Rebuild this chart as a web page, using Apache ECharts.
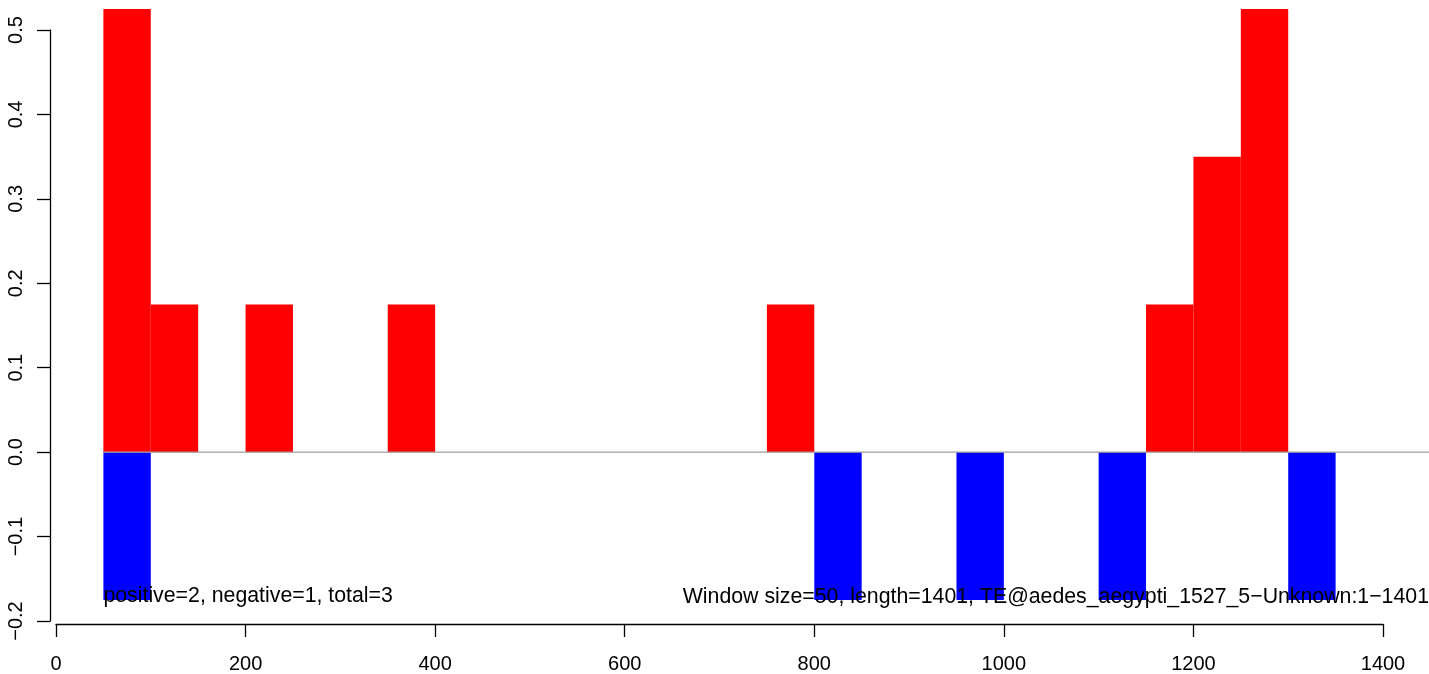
<!DOCTYPE html>
<html>
<head>
<meta charset="utf-8">
<script src="https://cdn.jsdelivr.net/npm/echarts@6/dist/echarts.min.js"></script>
<style>
html,body{margin:0;padding:0;background:#fff;}
#chart{width:1429px;height:674px;}
</style>
</head>
<body>
<div id="chart"></div>
<script>
// Window bins: [start, end, value]
var windowSize = 50;
var positiveStarts = [50, 100, 200, 350, 750, 1150, 1200, 1250];
var positiveValues = [0.525, 0.175, 0.175, 0.175, 0.175, 0.175, 0.35, 0.525];
var negativeStarts = [50, 800, 950, 1100, 1300];
var negativeValues = [-0.175, -0.175, -0.175, -0.175, -0.175];
var baselineX = [50, 1460];
var baselineY = [0, 0];
var xTicks = [0, 200, 400, 600, 800, 1000, 1200, 1400];
var yTicks = [-0.2, -0.1, 0.0, 0.1, 0.2, 0.3, 0.4, 0.5];
var leftNote = "positive=2, negative=1, total=3";
var rightNote = "Window size=50, length=1401, TE@aedes_aegypti_1527_5\u2212Unknown:1\u22121401";
var noteY = -0.175;
var noteLeftX = 50;

function bins(starts, values) {
  return starts.map(function (s, i) { return [s, s + windowSize, values[i]]; });
}

var FONT = "'Liberation Sans', Arial, Helvetica, sans-serif";
var NOTE_SIZE = 21.3;

function rectItem(color) {
  return function (params, api) {
    var p0 = api.coord([api.value(0), 0]);
    var p1 = api.coord([api.value(1), api.value(2)]);
    return {
      type: 'rect',
      shape: {
        x: p0[0],
        y: Math.min(p0[1], p1[1]),
        width: p1[0] - p0[0],
        height: Math.abs(p1[1] - p0[1])
      },
      style: { fill: color }
    };
  };
}

var chart = echarts.init(document.getElementById('chart'), null, { renderer: 'canvas' });
chart.setOption({
  animation: false,
  backgroundColor: '#ffffff',
  grid: { left: 56, right: 46, top: 30, bottom: 49, containLabel: false },
  xAxis: {
    type: 'value',
    min: xTicks[0],
    max: xTicks[xTicks.length - 1],
    interval: 200,
    offset: 3,
    splitLine: { show: false },
    axisLine: { show: true, onZero: false, lineStyle: { color: '#000', width: 1.3 } },
    axisTick: { show: true, length: 13, lineStyle: { color: '#000', width: 1.3 } },
    axisLabel: {
      color: '#000', fontSize: 20, fontFamily: FONT, margin: 30,
      formatter: function (v) { return String(v); }
    }
  },
  yAxis: {
    type: 'value',
    min: yTicks[0],
    max: yTicks[yTicks.length - 1],
    interval: 0.1,
    offset: 6,
    splitLine: { show: false },
    axisLine: { show: true, onZero: false, lineStyle: { color: '#000', width: 1.3 } },
    axisTick: { show: true, length: 13, lineStyle: { color: '#000', width: 1.3 } },
    axisLabel: {
      color: '#000', fontSize: 20, fontFamily: FONT, rotate: 90, margin: 24,
      formatter: function (v) { return v.toFixed(1).replace('-', '\u2212'); }
    }
  },
  series: [
    {
      type: 'custom',
      renderItem: rectItem('#ff0000'),
      data: bins(positiveStarts, positiveValues),
      encode: { x: [0, 1], y: 2 },
      clip: false,
      z: 2
    },
    {
      type: 'custom',
      renderItem: rectItem('#0000ff'),
      data: bins(negativeStarts, negativeValues),
      encode: { x: [0, 1], y: 2 },
      clip: false,
      z: 2
    },
    {
      type: 'custom',
      data: [[baselineX[0], baselineY[0], baselineX[1], baselineY[1]]],
      encode: { x: [0, 2], y: [1, 3] },
      clip: false,
      z: 3,
      renderItem: function (params, api) {
        var a = api.coord([api.value(0), api.value(1)]);
        var b = api.coord([api.value(2), api.value(3)]);
        return {
          type: 'line',
          shape: { x1: a[0], y1: a[1], x2: b[0], y2: b[1] },
          style: { stroke: '#9e9e9e', lineWidth: 1.2 }
        };
      }
    },
    {
      type: 'custom',
      data: [[noteLeftX, noteY]],
      encode: { x: 0, y: 1 },
      clip: false,
      silent: true,
      z: 5,
      renderItem: function (params, api) {
        var p = api.coord([api.value(0), api.value(1)]);
        return {
          type: 'text',
          x: p[0],
          y: p[1] - 4,
          style: {
            text: leftNote, fill: '#000', fontSize: NOTE_SIZE, fontFamily: FONT,
            align: 'left', verticalAlign: 'middle', opacity: 1
          }
        };
      }
    }
  ],
  graphic: [
    {
      type: 'text',
      right: 0,
      top: 587,
      z: 10,
      style: { text: rightNote, fill: '#000', fontSize: NOTE_SIZE, fontFamily: FONT }
    }
  ]
});
</script>
</body>
</html>
